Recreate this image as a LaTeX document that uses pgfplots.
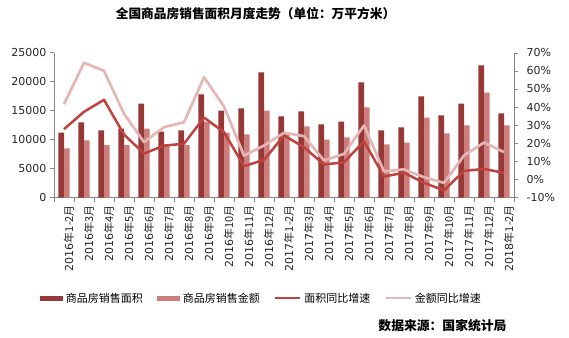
\documentclass[border=0pt]{standalone}
\usepackage{fontspec}
\setmainfont{DejaVu Sans}
\newfontfamily\cjk{Noto Sans CJK SC}
\usepackage{pgfplots}
\usepackage{pgfplotstable}
\pgfplotsset{compat=1.18}
\definecolor{areabar}{RGB}{150,56,54}
\definecolor{amtbar}{RGB}{205,125,123}
\definecolor{arealine}{RGB}{192,66,62}
\definecolor{amtline}{RGB}{228,183,182}
\definecolor{axgray}{RGB}{134,134,134}
\newcommand{\ym}[2]{#1\cjk{年}#2\cjk{月}}
\pgfplotstableread{
i area amount areag amountg
0 11230 8470 27.8 41.6
1 12960 9850 37.4 64.5
2 11580 9040 44.0 60.0
3 11920 9040 24.8 36.3
4 16240 11920 14.3 20.6
5 11400 8970 18.7 28.9
6 11580 9040 19.7 31.6
7 17800 13130 34.2 56.5
8 15030 11230 26.1 40.3
9 15380 10890 7.3 13.2
10 21600 15030 10.8 18.7
11 14000 11100 24.3 25.8
12 14860 12270 17.8 23.9
13 12620 10020 8.2 10.5
14 13130 10370 9.5 14.1
15 19870 15550 21.0 29.8
16 11580 9160 1.6 4.4
17 12100 9500 3.7 5.6
18 17450 13820 -1.9 1.2
19 14170 11060 -6.1 -1.9
20 16240 12440 4.7 13.2
21 22810 18140 5.8 20.4
22 14520 12440 3.6 15.1
}\data
\begin{document}
\begin{tikzpicture}
\path[use as bounding box] (0pt,0pt) rectangle (569pt,337pt);
\node[font=\cjk\bfseries\fontsize{12.7}{14}\selectfont] at (255.5pt,323pt) {全国商品房销售面积月度走势（单位：万平方米）};
\node[anchor=east,font=\cjk\bfseries\fontsize{12.8}{14}\selectfont] at (510pt,11.3pt) {数据来源：国家统计局};
\begin{axis}[
  at={(54pt,139.5pt)}, anchor=south west, scale only axis,
  width=460pt, height=144.7pt,
  xmin=-0.5, xmax=22.5, ymin=0, ymax=25000,
  axis x line*=bottom, axis y line*=left,
  axis line style={-, draw=axgray},
  tick style={draw=axgray, line width=0.6pt},
  tick align=outside, major tick length=4pt,
  xtick pos=bottom, ytick pos=left,
  ytick={0,5000,...,25000},
  scaled ticks=false,
  /pgf/number format/1000 sep={},
  /pgf/number format/assume math mode=true,
  tick label style={font=\fontsize{11}{13}\selectfont, text=black!85},
  xtick={-0.5,0.5,...,22.5},
  x tick label as interval,
  xticklabels={\ym{2016}{1-2},\ym{2016}{3},\ym{2016}{4},\ym{2016}{5},\ym{2016}{6},\ym{2016}{7},\ym{2016}{8},\ym{2016}{9},\ym{2016}{10},\ym{2016}{11},\ym{2016}{12},\ym{2017}{1-2},\ym{2017}{3},\ym{2017}{4},\ym{2017}{5},\ym{2017}{6},\ym{2017}{7},\ym{2017}{8},\ym{2017}{9},\ym{2017}{10},\ym{2017}{11},\ym{2017}{12},\ym{2018}{1-2}},
  xticklabel style={rotate=90, anchor=east, yshift=-5pt},
  ybar=0pt, bar width=5.6pt,
  legend style={at={(0.451,-0.696)}, anchor=center, legend columns=4, draw=none, fill=none,
    font=\cjk\fontsize{11}{13}\selectfont,
    /tikz/every even column/.append style={column sep=12pt},
    /tikz/every odd column/.append style={column sep=1pt}},
]
\addplot[fill=areabar, draw=none, legend image code/.code={\fill[areabar] (0pt,-2.6pt) rectangle (23pt,2.6pt);}] table[x=i,y=area]{\data};
\addlegendentry{商品房销售面积}
\addplot[fill=amtbar, draw=none, legend image code/.code={\fill[amtbar] (0pt,-2.6pt) rectangle (23pt,2.6pt);}] table[x=i,y=amount]{\data};
\addlegendentry{商品房销售金额}
\addlegendimage{legend image code/.code={\draw[arealine, line width=2.5pt] (0pt,0pt) -- (25pt,0pt);}}
\addlegendentry{面积同比增速}
\addlegendimage{legend image code/.code={\draw[amtline, line width=2.5pt] (0pt,0pt) -- (25pt,0pt);}}
\addlegendentry{金额同比增速}
\end{axis}
\begin{axis}[
  at={(54pt,139.5pt)}, anchor=south west, scale only axis,
  width=460pt, height=144.7pt,
  xmin=-0.5, xmax=22.5, ymin=-10, ymax=70,
  axis x line=none, axis y line*=right,
  axis line style={-, draw=axgray},
  tick style={draw=axgray, line width=0.6pt},
  tick align=outside, major tick length=4pt,
  ytick pos=right,
  ytick={-10,0,...,70},
  yticklabel={\pgfmathprintnumber{\tick}\%},
  yticklabel style={xshift=5pt},
  /pgf/number format/assume math mode=true,
  tick label style={font=\fontsize{11}{13}\selectfont, text=black!85},
]
\addplot[arealine, line width=2.5pt, line join=round] table[x=i,y=areag]{\data};
\addplot[amtline, line width=2.7pt, line join=round] table[x=i,y=amountg]{\data};
\end{axis}
\end{tikzpicture}
\end{document}
